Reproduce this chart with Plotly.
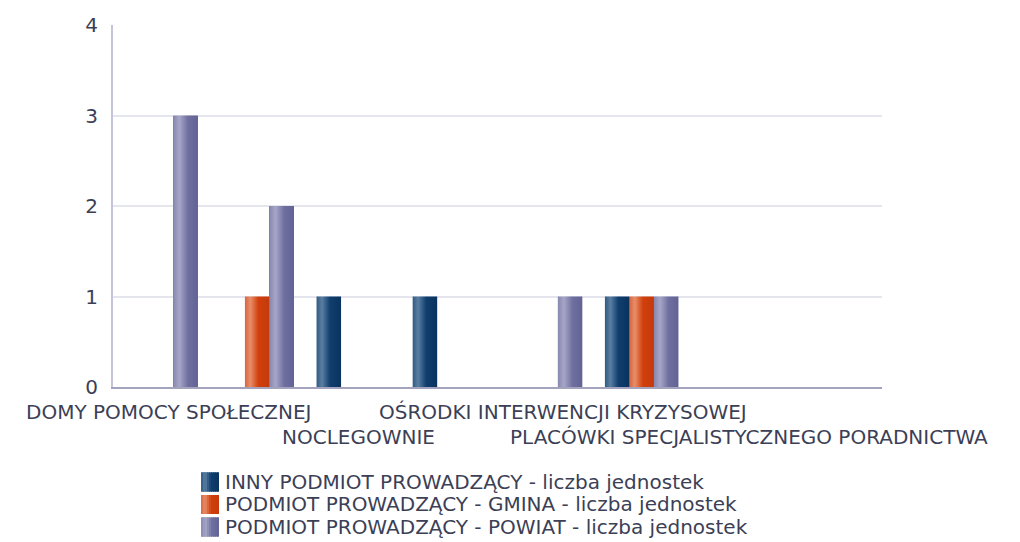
import plotly.graph_objects as go

# Category slots along the x axis (8 slots, labels shown on four of them)
slot_count = 8
category_labels = [
    "DOMY POMOCY SPOŁECZNEJ",
    "NOCLEGOWNIE",
    "OŚRODKI INTERWENCJI KRYZYSOWEJ",
    "PLACÓWKI SPECJALISTYCZNEGO PORADNICTWA",
]

series_names = [
    "INNY PODMIOT PROWADZĄCY - liczba jednostek",
    "PODMIOT PROWADZĄCY - GMINA - liczba jednostek",
    "PODMIOT PROWADZĄCY - POWIAT - liczba jednostek",
]
inny_values = [0, 0, 1, 1, 0, 1, 0, 0]
gmina_values = [0, 1, 0, 0, 0, 1, 0, 0]
powiat_values = [3, 2, 0, 0, 1, 1, 0, 0]

y_ticks = [0, 1, 2, 3, 4]

# styling
FONT = "DejaVu Sans"
FS = 20
TEXT = "#3c3f56"
BAR_W = 0.255
W, H = 1020, 542
M_L, M_R, M_T, M_B = 113, 138, 25, 155
PLOT_W = W - M_L - M_R
PLOT_H = H - M_T - M_B

series = [
    (series_names[0], inny_values, -BAR_W, "#1d4a76",
     [[0, "#2f5a82"], [0.22, "#5b7fa2"], [0.55, "#0f3e6e"], [1, "#0a335e"]]),
    (series_names[1], gmina_values, 0.0, "#d4461a",
     [[0, "#d9653e"], [0.22, "#e88e69"], [0.55, "#d1400c"], [1, "#c43a0c"]]),
    (series_names[2], powiat_values, BAR_W, "#7a7aa8",
     [[0, "#8888b0"], [0.25, "#a6a6c8"], [0.6, "#6f6f9f"], [1, "#626295"]]),
]


def px_x(px):
    return (px - M_L) / PLOT_W


def px_y(py):
    return (H - M_B - py) / PLOT_H


def lerp_scale(scale, t):
    for (t0, c0), (t1, c1) in zip(scale[:-1], scale[1:]):
        if t0 <= t <= t1:
            f = 0 if t1 == t0 else (t - t0) / (t1 - t0)
            a = [int(c0[i:i + 2], 16) for i in (1, 3, 5)]
            b = [int(c1[i:i + 2], 16) for i in (1, 3, 5)]
            return "rgb(%d,%d,%d)" % tuple(round(a[k] + (b[k] - a[k]) * f) for k in range(3))
    return scale[-1][1]


fig = go.Figure()

for name, vals, off, base, scale in series:
    xs = [i + off for i in range(slot_count)]
    fig.add_trace(go.Bar(
        x=xs, y=vals, width=BAR_W, name=name, showlegend=False,
        marker=dict(color=base, line=dict(width=0)),
    ))

# cylinder-like shading laid over each bar
for name, vals, off, base, scale in series:
    for i, v in enumerate(vals):
        if not v:
            continue
        x0 = i + off - BAR_W / 2
        x1 = i + off + BAR_W / 2
        fig.add_trace(go.Scatter(
            x=[x0, x1, x1, x0, x0], y=[0, 0, v, v, 0],
            mode="lines", line=dict(width=0), fill="toself",
            fillgradient=dict(type="horizontal", colorscale=scale),
            showlegend=False, hoverinfo="skip",
        ))

# category labels, staggered on two rows
label_pos = [0.08, 2.05, 4.18, 6.12]
label_row = [0, 1, 0, 1]
for txt, xp, row in zip(category_labels, label_pos, label_row):
    fig.add_annotation(
        x=xp, xref="x", y=px_y(412 + row * 25), yref="paper",
        text=txt, showarrow=False, xanchor="center", yanchor="middle",
        font=dict(family=FONT, size=FS, color=TEXT),
    )

# legend: shaded swatch + series name per row
STRIPES = 9
sw_x0, sw_x1 = 201, 219
step = (sw_x1 - sw_x0) / STRIPES
for k, (name, vals, off, base, scale) in enumerate(series):
    cy = 482 + k * 22.5
    # solid underlay so the stripe seams don't show
    fig.add_shape(
        type="rect", xref="paper", yref="paper",
        x0=px_x(sw_x0), x1=px_x(sw_x1),
        y0=px_y(cy + 9.5), y1=px_y(cy - 9.5),
        fillcolor=base, line=dict(width=0), layer="above",
    )
    for s in range(STRIPES):
        fig.add_shape(
            type="rect", xref="paper", yref="paper",
            x0=px_x(sw_x0 + step * s),
            x1=px_x(min(sw_x1, sw_x0 + step * (s + 1) + 1)),
            y0=px_y(cy + 9.5), y1=px_y(cy - 9.5),
            fillcolor=lerp_scale(scale, (s + 0.5) / STRIPES),
            line=dict(width=0), layer="above",
        )
    fig.add_annotation(
        x=px_x(223), xref="paper", y=px_y(cy), yref="paper",
        text=name, showarrow=False, xanchor="left", yanchor="middle",
        font=dict(family=FONT, size=FS, color=TEXT),
    )

fig.update_layout(
    width=W, height=H,
    margin=dict(l=M_L, r=M_R, t=M_T, b=M_B, autoexpand=False),
    paper_bgcolor="white", plot_bgcolor="white",
    barmode="overlay", bargap=0,
    font=dict(family=FONT, size=FS, color=TEXT),
    showlegend=False,
)
fig.update_xaxes(
    range=[-0.5, slot_count - 0.5], showgrid=False, zeroline=False,
    showticklabels=False, ticks="",
    showline=True, linecolor="#a3a3bd", linewidth=2,
)
fig.update_yaxes(
    range=[0, 4], tickvals=y_ticks, showgrid=True, gridcolor="#e5e5ee",
    gridwidth=1.5, zeroline=False, showline=True, linecolor="#c3c3da",
    linewidth=2, ticks="outside", ticklen=9, tickcolor="rgba(0,0,0,0)",
    tickfont=dict(family=FONT, size=FS, color=TEXT),
)

fig.write_html("out.html")
